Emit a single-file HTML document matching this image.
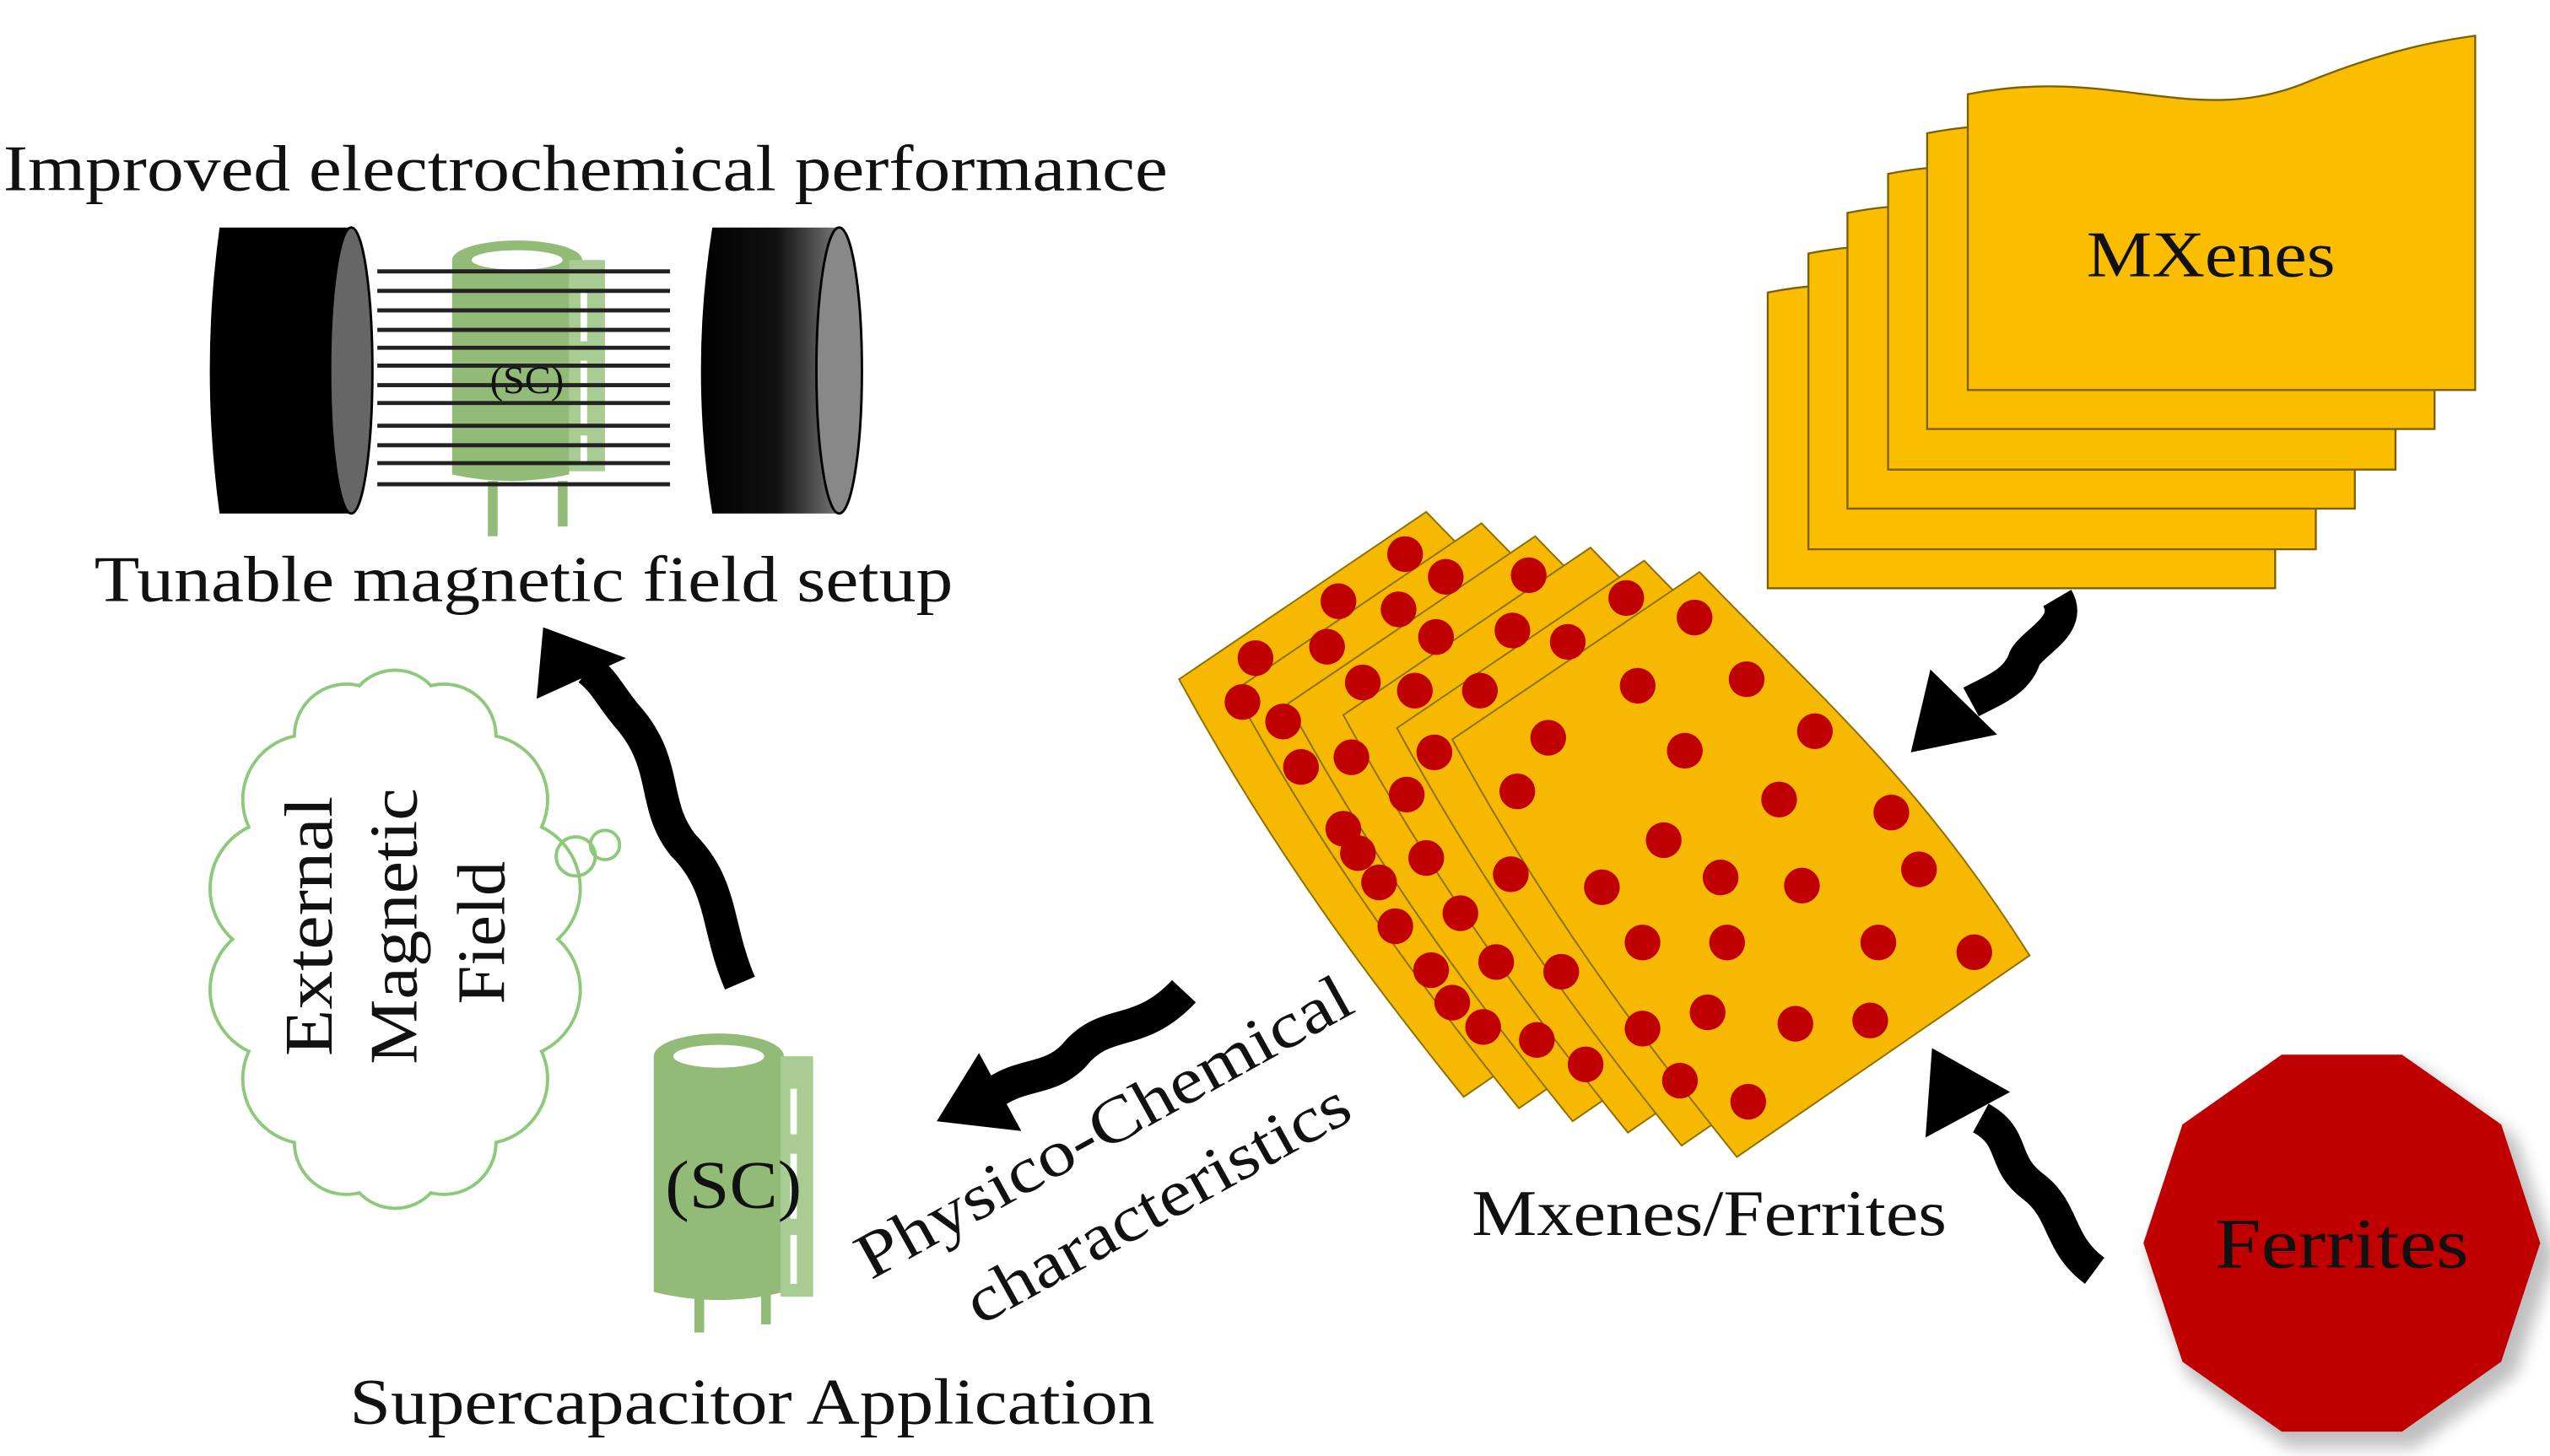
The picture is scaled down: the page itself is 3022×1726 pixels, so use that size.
<!DOCTYPE html>
<html><head><meta charset="utf-8"><style>
html,body{margin:0;padding:0;background:#fff;}
svg{display:block;}
text{font-family:"Liberation Serif",serif;fill:#111;}
</style></head><body>
<svg width="3022" height="1726" viewBox="0 0 1568 896" preserveAspectRatio="none" xmlns="http://www.w3.org/2000/svg">
<defs>
<linearGradient id="mg" x1="0" x2="1"><stop offset="0" stop-color="#000"/><stop offset="0.55" stop-color="#111"/><stop offset="1" stop-color="#777"/></linearGradient>
<filter id="blur"><feGaussianBlur stdDeviation="5"/></filter>
</defs>
<rect width="1568" height="896" fill="#fff"/>

<text x="2" y="117" font-size="40" textLength="716" lengthAdjust="spacingAndGlyphs">Improved electrochemical performance</text>
<!-- left magnet -->
<path d="M135,140 L216,140 L216,316 L135,316 Q123,228 135,140 Z" fill="#000"/>
<ellipse cx="216" cy="228" rx="13" ry="88" fill="#666" stroke="#000" stroke-width="1.5"/>
<!-- right magnet -->
<path d="M438,140 L516,140 L516,316 L438,316 Q424,228 438,140 Z" fill="url(#mg)"/>
<ellipse cx="516" cy="228" rx="14" ry="88" fill="#888" stroke="#000" stroke-width="1.5"/>
<!-- top capacitor -->
<g fill="#93bb78">
<path d="M278,160 L350,160 L350,292 Q314,300 278,292 Z"/>
<ellipse cx="318" cy="160" rx="40" ry="12"/>
<rect x="350" y="160" width="22" height="130" fill="#a9cc92"/>
<rect x="300" y="296" width="6" height="34"/>
<rect x="343" y="296" width="6" height="28"/>
</g>
<ellipse cx="318" cy="160" rx="28" ry="6" fill="#fff"/>
<rect x="357" y="180" width="4" height="30" fill="#fff"/><rect x="357" y="222" width="4" height="40" fill="#fff"/><rect x="357" y="268" width="4" height="18" fill="#fff"/>
<g stroke="#222" stroke-width="2.5">
<line x1="232" y1="167" x2="412" y2="167"/><line x1="232" y1="179" x2="412" y2="179"/><line x1="232" y1="191" x2="412" y2="191"/><line x1="232" y1="203" x2="412" y2="203"/><line x1="232" y1="214" x2="412" y2="214"/><line x1="232" y1="225" x2="412" y2="225"/><line x1="232" y1="237" x2="412" y2="237"/><line x1="232" y1="248" x2="412" y2="248"/><line x1="232" y1="262" x2="412" y2="262"/><line x1="232" y1="274" x2="412" y2="274"/><line x1="232" y1="285" x2="412" y2="285"/><line x1="232" y1="298" x2="412" y2="298"/>
</g>
<text x="324" y="242" font-size="24" text-anchor="middle">(SC)</text>
<text x="58" y="370" font-size="40" textLength="528" lengthAdjust="spacingAndGlyphs">Tunable magnetic field setup</text>

<!-- cloud -->
<path d="M343,578 A42,42 0 0 0 333,509 A40,40 0 0 0 305,453 A32,32 0 0 0 265,422 A30,30 0 0 0 221,422 A32,32 0 0 0 181,453 A40,40 0 0 0 153,509 A42,42 0 0 0 143,578 A42,42 0 0 0 153,647 A40,40 0 0 0 181,703 A32,32 0 0 0 221,734 A30,30 0 0 0 265,734 A32,32 0 0 0 305,703 A40,40 0 0 0 333,647 A42,42 0 0 0 343,578 Z" fill="none" stroke="#8cc97a" stroke-width="2"/>
<circle cx="354" cy="527" r="12" fill="none" stroke="#8cc97a" stroke-width="2"/>
<circle cx="372" cy="520" r="9" fill="none" stroke="#8cc97a" stroke-width="2"/>
<text font-size="42" text-anchor="middle" textLength="160" lengthAdjust="spacingAndGlyphs" transform="translate(204,570) rotate(-90)">External</text>
<text font-size="42" text-anchor="middle" textLength="170" lengthAdjust="spacingAndGlyphs" transform="translate(256,570) rotate(-90)">Magnetic</text>
<text font-size="42" text-anchor="middle" textLength="88" lengthAdjust="spacingAndGlyphs" transform="translate(310,574) rotate(-90)">Field</text>

<!-- arrow up -->
<path d="M455,605 C440,570 445,545 420,520 C400,495 412,470 385,440 C375,428 372,420 362,412" fill="none" stroke="#000" stroke-width="20"/>
<polygon points="334,386 330,430 385,405" fill="#000"/>

<!-- bottom capacitor -->
<g fill="#93bb78">
<path d="M402,650 L482,650 L482,795 Q442,805 402,795 Z"/>
<ellipse cx="442" cy="650" rx="40" ry="14"/>
<rect x="480" y="650" width="20" height="148" fill="#a9cc92"/>
<rect x="427" y="795" width="6" height="25"/>
<rect x="468" y="795" width="6" height="20"/>
</g>
<ellipse cx="442" cy="650" rx="28" ry="7" fill="#fff"/>
<rect x="486" y="670" width="4" height="28" fill="#fff"/><rect x="486" y="710" width="4" height="40" fill="#fff"/><rect x="486" y="760" width="4" height="30" fill="#fff"/>
<text x="451" y="743" font-size="42" text-anchor="middle" textLength="84" lengthAdjust="spacingAndGlyphs">(SC)</text>
<text x="215" y="876" font-size="40" textLength="495" lengthAdjust="spacingAndGlyphs">Supercapacitor Application</text>

<!-- physico arrow -->
<path d="M728,610 C700,640 680,625 660,650 C645,665 630,660 612,672" fill="none" stroke="#000" stroke-width="20"/>
<polygon points="576,690 602,648 628,696" fill="#000"/>
<text font-size="40" text-anchor="middle" textLength="342" lengthAdjust="spacingAndGlyphs" transform="translate(685,705) rotate(-29)">Physico-Chemical</text>
<text font-size="40" text-anchor="middle" textLength="264" lengthAdjust="spacingAndGlyphs" transform="translate(718,752) rotate(-29)">characteristics</text>

<!-- sheets -->
<g stroke="#8a7000" stroke-width="1">
<g transform="translate(-168,-37)"><path d="M893,455 L1045,352 C1120,430 1180,480 1248,588 L1068,712 C1010,640 950,560 893,455 Z" fill="#f6b800"/></g>
<g transform="translate(-134,-30)"><path d="M893,455 L1045,352 C1120,430 1180,480 1248,588 L1068,712 C1010,640 950,560 893,455 Z" fill="#f6b800"/></g>
<g transform="translate(-101,-22)"><path d="M893,455 L1045,352 C1120,430 1180,480 1248,588 L1068,712 C1010,640 950,560 893,455 Z" fill="#f6b800"/></g>
<g transform="translate(-67,-15)"><path d="M893,455 L1045,352 C1120,430 1180,480 1248,588 L1068,712 C1010,640 950,560 893,455 Z" fill="#f6b800"/></g>
<g transform="translate(-34,-7)"><path d="M893,455 L1045,352 C1120,430 1180,480 1248,588 L1068,712 C1010,640 950,560 893,455 Z" fill="#f6b800"/></g>
<path d="M893,455 L1045,352 C1120,430 1180,480 1248,588 L1068,712 C1010,640 950,560 893,455 Z" fill="#f6b800"/>
</g>
<g fill="#c00000">
<circle cx="864" cy="341" r="11"/><circle cx="889" cy="355" r="11"/><circle cx="940" cy="354" r="11"/><circle cx="823" cy="370" r="11"/><circle cx="860" cy="375" r="11"/><circle cx="772" cy="405" r="11"/><circle cx="816" cy="398" r="11"/><circle cx="883" cy="392" r="11"/><circle cx="930" cy="388" r="11"/><circle cx="1000" cy="368" r="11"/><circle cx="1042" cy="380" r="11"/><circle cx="764" cy="432" r="11"/><circle cx="789" cy="444" r="11"/><circle cx="838" cy="420" r="11"/><circle cx="870" cy="425" r="11"/><circle cx="910" cy="425" r="11"/><circle cx="964" cy="395" r="11"/><circle cx="1007" cy="422" r="11"/><circle cx="1074" cy="418" r="11"/><circle cx="800" cy="472" r="11"/><circle cx="831" cy="466" r="11"/><circle cx="882" cy="463" r="11"/><circle cx="952" cy="454" r="11"/><circle cx="1036" cy="462" r="11"/><circle cx="1116" cy="450" r="11"/><circle cx="826" cy="510" r="11"/><circle cx="865" cy="489" r="11"/><circle cx="933" cy="487" r="11"/><circle cx="1094" cy="492" r="11"/><circle cx="1163" cy="500" r="11"/><circle cx="835" cy="525" r="11"/><circle cx="848" cy="543" r="11"/><circle cx="877" cy="528" r="11"/><circle cx="1023" cy="517" r="11"/><circle cx="929" cy="538" r="11"/><circle cx="985" cy="546" r="11"/><circle cx="1058" cy="540" r="11"/><circle cx="1108" cy="545" r="11"/><circle cx="1180" cy="535" r="11"/><circle cx="858" cy="570" r="11"/><circle cx="898" cy="562" r="11"/><circle cx="1010" cy="580" r="11"/><circle cx="1062" cy="580" r="11"/><circle cx="1155" cy="580" r="11"/><circle cx="1214" cy="586" r="11"/><circle cx="880" cy="597" r="11"/><circle cx="920" cy="592" r="11"/><circle cx="960" cy="598" r="11"/><circle cx="893" cy="617" r="11"/><circle cx="1050" cy="623" r="11"/><circle cx="1104" cy="630" r="11"/><circle cx="1150" cy="628" r="11"/><circle cx="912" cy="632" r="11"/><circle cx="945" cy="640" r="11"/><circle cx="975" cy="655" r="11"/><circle cx="1010" cy="633" r="11"/><circle cx="1033" cy="665" r="11"/><circle cx="1075" cy="678" r="11"/>
</g>
<text x="905" y="760" font-size="40" textLength="292" lengthAdjust="spacingAndGlyphs">Mxenes/Ferrites</text>

<!-- MXenes stack -->
<g stroke="#7a6000" stroke-width="1.2" fill="#fbbd00">
<path transform="translate(-123,122)" d="M1210,58 C1300,40 1350,80 1420,50 C1470,30 1500,25 1522,22 L1522,240 L1210,240 Z"/>
<path transform="translate(-98,98)" d="M1210,58 C1300,40 1350,80 1420,50 C1470,30 1500,25 1522,22 L1522,240 L1210,240 Z"/>
<path transform="translate(-74,73)" d="M1210,58 C1300,40 1350,80 1420,50 C1470,30 1500,25 1522,22 L1522,240 L1210,240 Z"/>
<path transform="translate(-49,49)" d="M1210,58 C1300,40 1350,80 1420,50 C1470,30 1500,25 1522,22 L1522,240 L1210,240 Z"/>
<path transform="translate(-25,24)" d="M1210,58 C1300,40 1350,80 1420,50 C1470,30 1500,25 1522,22 L1522,240 L1210,240 Z"/>
<path d="M1210,58 C1300,40 1350,80 1420,50 C1470,30 1500,25 1522,22 L1522,240 L1210,240 Z"/>
</g>
<text x="1283" y="170" font-size="40" textLength="153" lengthAdjust="spacingAndGlyphs">MXenes</text>

<!-- MXenes arrow -->
<path d="M1265,368 C1275,385 1250,395 1245,405 C1240,420 1225,425 1212,432" fill="none" stroke="#000" stroke-width="20"/>
<polygon points="1175,463 1187,412 1228,452" fill="#000"/>

<!-- ferrites arrow -->
<path d="M1288,782 C1265,765 1270,745 1250,730 C1230,715 1240,700 1218,688" fill="none" stroke="#000" stroke-width="20"/>
<polygon points="1188,645 1184,700 1236,672" fill="#000"/>

<!-- Ferrites -->
<polygon transform="translate(6,8)" points="1565,765 1541,838 1479,883 1401,883 1339,838 1315,765 1339,692 1401,647 1479,647 1541,692" fill="#000" opacity="0.25" filter="url(#blur)"/>
<polygon points="1562,765 1538,838 1477,881 1403,881 1342,838 1318,765 1342,692 1403,649 1477,649 1538,692" fill="#c00000"/>
<text x="1362" y="780" font-size="44" textLength="156" lengthAdjust="spacingAndGlyphs">Ferrites</text>
</svg>
</body></html>
